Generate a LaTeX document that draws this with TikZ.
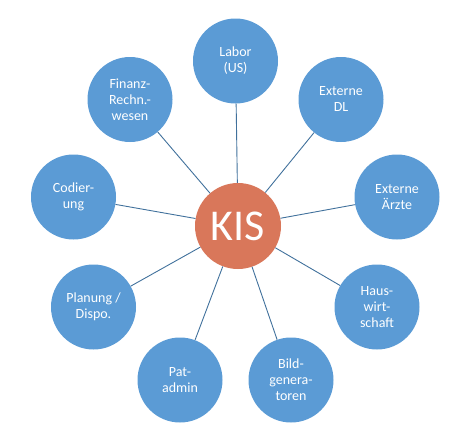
\documentclass[tikz,border=0pt]{standalone}
\usepackage{fontspec}
\setmainfont{Carlito}
\definecolor{sat}{HTML}{5B9BD5}
\definecolor{hub}{HTML}{D9775A}
\definecolor{lnk}{HTML}{41719C}
\begin{document}
\begin{tikzpicture}[x=1pt,y=-1pt,
  sat/.style={circle,fill=sat,minimum size=85pt,inner sep=0pt,text=white,align=center,
    font=\fontsize{14}{16}\selectfont},
  hubn/.style={circle,fill=hub,minimum size=86pt,inner sep=0pt,text=white,
    font=\fontsize{44}{44}\selectfont},
  lk/.style={draw=lnk,line width=0.9pt}]
\useasboundingbox (0,0) rectangle (472,440);
\node[hubn] (kis) at (238,226) {KIS};
\node[sat] (labor) at (235.5,61) {Labor\\(US)};
\node[sat] (edl) at (341,99.5) {Externe\\DL};
\node[sat] (ea) at (397,197) {Externe\\Ärzte};
\node[sat] (haus) at (377,307) {Haus-\\wirt-\\schaft};
\node[sat] (bild) at (291,380) {Bild-\\genera-\\toren};
\node[sat] (pat) at (180,380) {Pat-\\admin};
\node[sat] (plan) at (93.5,307) {Planung /\\Dispo.};
\node[sat] (cod) at (73.5,197) {Codier-\\ung};
\node[sat] (fin) at (130,99.5) {Finanz-\\Rechn.-\\wesen};
\foreach \n in {labor,edl,ea,haus,bild,pat,plan,cod,fin}
  \draw[lk] (kis) -- (\n);
\end{tikzpicture}
\end{document}
